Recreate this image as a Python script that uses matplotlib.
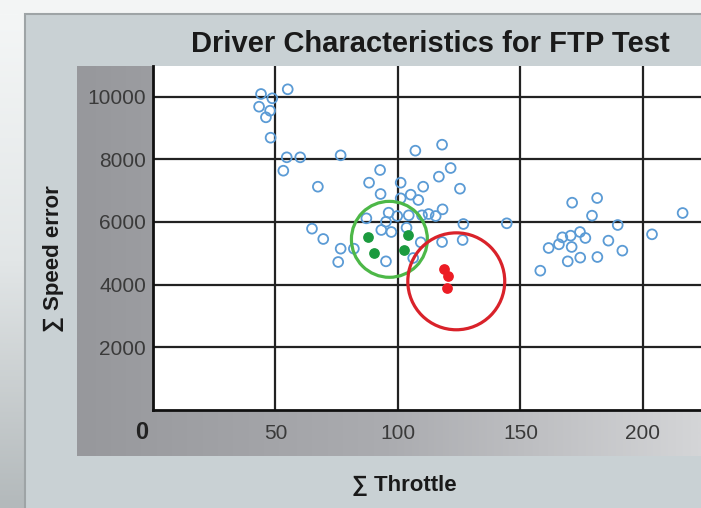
import numpy as np
import matplotlib
matplotlib.use("Agg")
import matplotlib.pyplot as plt
from matplotlib.patches import Rectangle
from matplotlib.colors import LinearSegmentedColormap

# Data
throttle_all = [44.1, 48.7, 55.0, 43.3, 47.8, 46.1, 48.0, 54.6, 60.1, 76.6, 53.2, 67.3,
                107.1, 118.0, 92.7, 121.5, 88.2, 101.1, 116.7, 110.3, 125.3, 92.9, 101.1,
                105.2, 108.3, 118.2, 96.2, 99.7, 104.4, 109.8, 112.5, 115.4, 87.1, 95.1,
                126.7, 64.9, 93.2, 97.3, 103.5, 69.5, 109.3, 118.0, 126.4, 76.6, 82.0,
                75.6, 95.1, 106.2, 144.4,
                171.1, 181.3, 179.2, 216.2, 189.7, 203.7, 174.3, 167.1, 170.5, 176.5,
                185.9, 161.5, 165.7, 170.9, 191.6, 169.3, 174.4, 181.4, 158.1]
speed_err_all = [10080, 9943, 10230, 9675, 9547, 9336, 8686, 8060, 8060, 8124, 7633, 7123,
                 8272, 8463, 7656, 7719, 7251, 7251, 7443, 7123, 7059, 6890, 6752,
                 6868, 6699, 6401, 6294, 6188, 6210, 6210, 6252, 6188, 6114, 6006,
                 5933, 5784, 5742, 5678, 5816, 5455, 5348, 5359, 5423, 5146, 5146,
                 4721, 4742, 4848, 5955,
                 6613, 6762, 6199, 6284, 5901, 5604, 5678, 5508, 5561, 5487,
                 5402, 5168, 5285, 5200, 5083, 4742, 4860, 4880, 4444]

throttle_green = [87.6, 104.2, 90.1, 102.3]
speed_err_green = [5529, 5572, 5019, 5104]

throttle_red = [118.9, 120.5, 119.9]
speed_err_red = [4498, 4274, 3881]

# group centres (rings)
ring_x = [96.5, 123.8]
ring_y = [5444, 4105]

x_ticks = [50, 100, 150, 200]
y_ticks = [2000, 4000, 6000, 8000, 10000]

W, H = 701, 508
fig = plt.figure(figsize=(W / 100, H / 100), dpi=100)
fig.patch.set_facecolor("#f3f5f5")

# background decoration in pixel coordinates
bg = fig.add_axes([0, 0, 1, 1], zorder=-5)
bg.set_xlim(0, W)
bg.set_ylim(H, 0)
bg.axis("off")

left_grad = LinearSegmentedColormap.from_list("lg", ["#f4f6f6", "#e2e6e7", "#b3b9bb"])
bg.imshow(np.linspace(0, 1, 200).reshape(-1, 1), cmap=left_grad, aspect="auto",
          extent=(0, 25, H, 14), zorder=0)
bg.add_patch(Rectangle((25, 14), W + 20, H + 20, facecolor="#c9d1d4",
                       edgecolor="#9ea4a6", lw=1.5, zorder=1, clip_on=True))
panel_grad = LinearSegmentedColormap.from_list("pg", ["#97989c", "#abacb0", "#d4d5d7"])
bg.imshow(np.linspace(0, 1, 300).reshape(1, -1), cmap=panel_grad, aspect="auto",
          extent=(77, W, 456, 66), zorder=2)
bg.set_xlim(0, W)
bg.set_ylim(H, 0)

font_narrow = ["Liberation Sans Narrow", "Liberation Sans", "DejaVu Sans"]
font_reg = ["Liberation Sans", "DejaVu Sans"]

ax = fig.add_axes([153 / W, 98 / H, 548 / W, 344 / H])
ax.set_facecolor("white")
ax.set_xlim(0, 223.7)
ax.set_ylim(0, 10973)

ax.scatter(throttle_all, speed_err_all, s=50, facecolors="none",
           edgecolors="#5b9bd5", linewidths=1.3, zorder=3)
ax.scatter(throttle_green, speed_err_green, s=45, color="#1b9a3e", zorder=4)
ax.scatter(throttle_red, speed_err_red, s=45, color="#ec1c24", zorder=4)
ax.scatter(ring_x[:1], ring_y[:1], s=2990, facecolors="none",
           edgecolors="#4db848", linewidths=2.3, zorder=5)
ax.scatter(ring_x[1:], ring_y[1:], s=4870, facecolors="none",
           edgecolors="#d9222a", linewidths=2.3, zorder=5)

ax.set_xticks(x_ticks)
ax.set_yticks(y_ticks)
ax.set_xticklabels([str(v) for v in x_ticks])
ax.set_yticklabels([str(v) for v in y_ticks])
ax.tick_params(length=0, labelsize=15, labelcolor="#3a3a3a")
ax.tick_params(axis="x", pad=10)
ax.tick_params(axis="y", pad=5)
for lab in ax.get_xticklabels() + ax.get_yticklabels():
    lab.set_family(font_reg)
ax.grid(True, color="#222222", lw=1.6, zorder=1)
ax.set_axisbelow(True)

for side in ["top", "right"]:
    ax.spines[side].set_visible(False)
for side in ["left", "bottom"]:
    ax.spines[side].set_color("#111111")
    ax.spines[side].set_linewidth(2)

ax.annotate("0", xy=(0, 0), xytext=(-8, -16), textcoords="offset points",
            ha="center", va="center", fontsize=17, color="#222222",
            family=font_reg, fontweight="bold", annotation_clip=False)

fig.text(430 / W, 1 - 44 / H, "Driver Characteristics for FTP Test",
         ha="center", va="center", fontsize=21, fontweight="bold",
         color="#1a1a1a", family=font_narrow)
fig.text(404 / W, 1 - 486 / H, "∑ Throttle", ha="center", va="center",
         fontsize=16, fontweight="bold", color="#1a1a1a", family=font_narrow)
fig.text(53 / W, 1 - 259 / H, "∑ Speed error", ha="center", va="center",
         rotation=90, fontsize=16, fontweight="bold", color="#1a1a1a",
         family=font_narrow)

fig.savefig("out.png", dpi=100, facecolor=fig.get_facecolor())
